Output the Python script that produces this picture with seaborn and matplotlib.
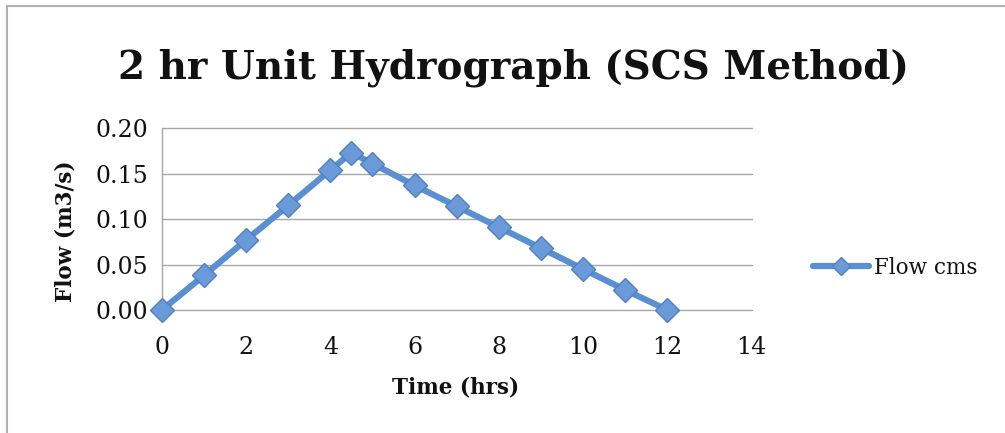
import matplotlib
matplotlib.use("Agg")
import matplotlib.pyplot as plt
import seaborn as sns
import pandas as pd
from matplotlib.lines import Line2D

# hydrograph ordinates
time_hrs = [0, 1, 2, 3, 4, 4.5, 5, 6, 7, 8, 9, 10, 11, 12]
flow_cms = [0.0, 0.038, 0.077, 0.115, 0.154, 0.173, 0.161, 0.137, 0.114,
            0.091, 0.068, 0.045, 0.022, 0.0]
x_ticks = [0, 2, 4, 6, 8, 10, 12, 14]
y_ticks = [0.00, 0.05, 0.10, 0.15, 0.20]

data = pd.DataFrame({"Time (hrs)": time_hrs, "Flow cms": flow_cms})

sns.set_style("white")
plt.rcParams["font.family"] = ["DejaVu Serif"]
plt.rcParams["text.color"] = "#111111"
plt.rcParams["axes.labelcolor"] = "#111111"

fig = plt.figure(figsize=(10.05, 4.33), dpi=100)
ax = fig.add_axes([0.161, 0.284, 0.587, 0.420])

blue = "#5a8fd2"
sns.lineplot(data=data, x="Time (hrs)", y="Flow cms", ax=ax, color=blue,
             linewidth=4.5, marker="D", markersize=12.5,
             markerfacecolor="#6a9ad8", markeredgecolor="#4f80c0",
             markeredgewidth=1, legend=False, clip_on=False, zorder=3)

ax.set_xlim(0, 14)
ax.set_ylim(0, 0.20)
ax.set_xticks(x_ticks)
ax.set_yticks(y_ticks)
ax.set_yticklabels([f"{v:.2f}" for v in y_ticks])
ax.tick_params(axis="both", labelsize=17, length=0, colors="#111111")
ax.tick_params(axis="y", pad=10)
ax.tick_params(axis="x", pad=19)
ax.yaxis.grid(True, color="#a6a6a6", linewidth=1)
ax.xaxis.grid(False)
for gl in ax.get_ygridlines():
    gl.set_clip_on(False)
for s in ["top", "right", "bottom"]:
    ax.spines[s].set_visible(False)
ax.spines["left"].set_color("#a6a6a6")
ax.spines["left"].set_linewidth(1)

ax.set_xlabel("Time (hrs)", fontsize=15.5, fontweight="bold")
ax.set_ylabel("Flow (m3/s)", fontsize=15.5, fontweight="bold")
ax.xaxis.set_label_coords(0.498, -0.368)
ax.yaxis.set_label_coords(-0.144, 0.434)

fig.text(0.511, 0.843, "2 hr Unit Hydrograph (SCS Method)", ha="center",
         va="center", fontsize=28, fontweight="bold", color="#111111")

handle = Line2D([], [], color=blue, linewidth=4.5, marker="D", markersize=9,
                markerfacecolor="#6a9ad8", markeredgecolor="#4f80c0")
fig.legend([handle], ["Flow cms"], loc="center left",
           bbox_to_anchor=(0.790, 1 - 268 / 433), frameon=False, fontsize=15.5,
           handlelength=2.6, handletextpad=0.2)

# outer chart border (top and left edges)
fig.add_artist(Line2D([0.007, 1.0], [0.986, 0.986], color="#b0b0b0",
                      linewidth=1.5, transform=fig.transFigure))
fig.add_artist(Line2D([0.007, 0.007], [0.0, 0.986], color="#b0b0b0",
                      linewidth=1.5, transform=fig.transFigure))

fig.savefig("out.png", dpi=100)
plt.close(fig)
